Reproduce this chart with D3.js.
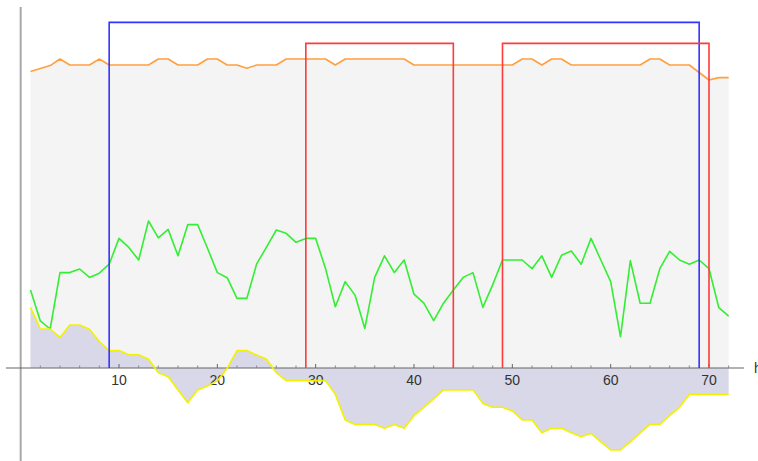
<!DOCTYPE html>
<html><head><meta charset="utf-8">
<script src="https://cdn.jsdelivr.net/npm/d3@7"></script>
<style>html,body{margin:0;padding:0;background:#fff;}svg{display:block;}</style>
</head><body>
<svg id="c" width="758" height="461"></svg>
<script>
const xTicks = [10,20,30,40,50,60,70];
const minorTicks = d3.range(2,73,2).filter(v => v % 10 !== 0);
const axisLabel = "h";
const orange = [98.8,99.8,100.8,103,101,101,101,103,101,101,101,101,101,103,103,101,101,101,103,103,
  101,101,99.9,101,101,101,103,103,103,103,103,101,103,103,103,103,103,103,103,101,
  101,101,101,101,101,101,101,101,101,101,103,103,101,103,103,101,101,101,101,101,
  101,101,101,103,103,101,101,101,98.5,96,96.8,96.8];
const green = [26,15.7,13,31.8,31.8,33,30.2,31.6,34.6,43.2,40.2,36,49,43.4,46.2,37.4,47.8,47.8,39.9,31.8,
  30.1,23.2,23.2,34.7,40.3,46,44.9,41.9,43.2,43.2,33.2,20.4,28.8,24.3,13.2,30.2,37.4,31.8,36,24.6,
  21.6,15.8,21.6,26,30.2,31.8,20.2,27.7,36,36,36,33.1,37.4,30.2,37.6,39,34.6,43.2,36,28.8,
  10.4,35.8,21.6,21.6,33.1,38.9,36,34.6,36,33.1,20.1,17.3];
const yellow = [20.2,13,13,10.2,14.3,14.3,12.9,8.8,5.8,5.8,4.4,4.4,2.9,-1.6,-2.9,-7.3,-11.6,-7.3,-6,-4.3,
  -0.1,5.8,5.8,4.3,2.9,-1.6,-4.2,-4.2,-4.2,-4.2,-4.2,-8.8,-17.3,-18.8,-18.8,-18.8,-20.1,-18.8,-20.1,-15.9,
  -13.1,-10.3,-7.3,-7.3,-7.3,-7.3,-11.8,-13.1,-13.1,-14.3,-17.3,-17.3,-21.6,-20.1,-20.1,-21.6,-22.9,-21.8,-24.6,-27.3,
  -27.3,-24.6,-21.6,-18.8,-18.8,-15.9,-13.1,-8.8,-8.8,-8.8,-8.8,-8.8];
const blueLevel = 115.2;
const blueIntervals = [[9,69]];
const redLevel = 108.2;
const redIntervals = [[29,44],[49,70]];

const svg = d3.select("#c");
const x = d3.scaleLinear().domain([10,70]).range([119,709]);
const y = d3.scaleLinear().domain([0,100]).range([368,68]);
const idx = d => d.i;

const toPts = arr => arr.map((v,k) => ({i:k+1, v}));
const area = d3.area().x(d => x(d.i)).y0(y(0)).y1(d => y(d.v));
const line = d3.line().x(d => x(d.i)).y(d => y(d.v));

// fills
svg.append("path").datum(toPts(orange)).attr("d", area).attr("fill", "#f4f4f4");
svg.append("path").datum(toPts(yellow)).attr("d", area).attr("fill", "#d8d8e8");

// axes
svg.append("line").attr("x1", x(0)).attr("x2", x(0)).attr("y1", 7).attr("y2", 461)
  .attr("stroke", "#a8a8a8").attr("stroke-width", 2);
svg.append("line").attr("x1", 6).attr("x2", 744).attr("y1", y(0)).attr("y2", y(0))
  .attr("stroke", "#666").attr("stroke-width", 1.2);
svg.selectAll(".maj").data(xTicks).join("line")
  .attr("x1", d => x(d)).attr("x2", d => x(d)).attr("y1", y(0)).attr("y2", y(0)-4)
  .attr("stroke", "#666").attr("stroke-width", 1);
svg.selectAll(".min").data(minorTicks).join("line")
  .attr("x1", d => x(d)).attr("x2", d => x(d)).attr("y1", y(0)).attr("y2", y(0)-2.5)
  .attr("stroke", "#888").attr("stroke-width", 1);
svg.selectAll(".tl").data(xTicks).join("text")
  .attr("x", d => x(d)).attr("y", 385).attr("text-anchor", "middle")
  .attr("font-family", "Liberation Sans, Arial, sans-serif").attr("font-size", 14)
  .attr("fill", "#333").text(d => d);
svg.append("text").attr("x", 754).attr("y", 373)
  .attr("font-family", "Liberation Sans, Arial, sans-serif").attr("font-size", 14)
  .attr("fill", "#333").text(axisLabel);

// lines
const lw = 1.6;
svg.append("path").datum(toPts(green)).attr("d", line).attr("fill", "none")
  .attr("stroke", "#33ee33").attr("stroke-width", lw).attr("stroke-linejoin", "round");
svg.append("path").datum(toPts(orange)).attr("d", line).attr("fill", "none")
  .attr("stroke", "#ffa040").attr("stroke-width", lw).attr("stroke-linejoin", "round");
svg.append("path").datum(toPts(yellow)).attr("d", line).attr("fill", "none")
  .attr("stroke", "#f2f200").attr("stroke-width", lw).attr("stroke-linejoin", "round");

const box = (a,b,lev) => [{i:a,v:0},{i:a,v:lev},{i:b,v:lev},{i:b,v:0}];
blueIntervals.forEach(([a,b]) => {
  svg.append("path").datum(box(a,b,blueLevel)).attr("d", line).attr("fill","none")
    .attr("stroke", "#3333ff").attr("stroke-width", 1.6);
});
redIntervals.forEach(([a,b]) => {
  svg.append("path").datum(box(a,b,redLevel)).attr("d", line).attr("fill","none")
    .attr("stroke", "#ff3b3b").attr("stroke-width", 1.6);
});
</script>
</body></html>
